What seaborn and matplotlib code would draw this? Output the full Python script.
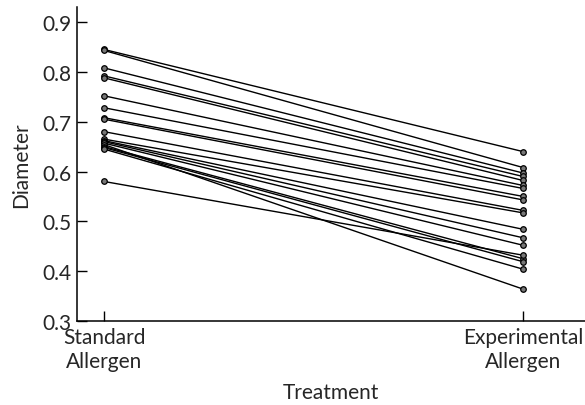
import pandas as pd
import seaborn as sns
import matplotlib.pyplot as plt

# diameters per subject
standard = [0.845, 0.843, 0.808, 0.792, 0.788, 0.752, 0.728, 0.708, 0.705, 0.680,
            0.665, 0.662, 0.660, 0.657, 0.654, 0.650, 0.648, 0.645, 0.580]
experimental = [0.640, 0.608, 0.597, 0.590, 0.582, 0.572, 0.566, 0.550, 0.543, 0.522,
                0.517, 0.484, 0.467, 0.452, 0.364, 0.425, 0.419, 0.404, 0.432]
treatments = ["Standard\nAllergen", "Experimental\nAllergen"]
y_ticks = [0.3, 0.4, 0.5, 0.6, 0.7, 0.8, 0.9]

n = len(standard)
df = pd.DataFrame({
    "subject": list(range(n)) * 2,
    "treatment": [0] * n + [1] * n,
    "diameter": standard + experimental,
})

sns.set_style("white")
plt.rcParams["font.family"] = ["Lato", "DejaVu Sans"]

fig = plt.figure(figsize=(5.85, 4.06), dpi=100)
ax = fig.add_axes([0.132, 0.207, 0.868, 0.773])

sns.lineplot(data=df, x="treatment", y="diameter", units="subject", estimator=None,
             color="black", lw=1.0, marker="o", markersize=4,
             markerfacecolor="#777777", markeredgecolor="black", markeredgewidth=0.9,
             ax=ax)

ax.set_xlim(-0.064, 1.148)
ax.set_ylim(0.3, 0.93)
ax.set_xticks([0, 1])
ax.set_xticklabels(treatments, linespacing=1.25)
ax.set_yticks(y_ticks)
ax.set_yticklabels([f"{v:.1f}" for v in y_ticks])
ax.tick_params(direction="in", length=7, width=1, color="black", labelsize=15,
               pad=4, bottom=True, left=True)
ax.set_xlabel("Treatment", fontsize=15, labelpad=8)
ax.set_ylabel("Diameter", fontsize=15, labelpad=8)
sns.despine(ax=ax)
for s in ("left", "bottom"):
    ax.spines[s].set_color("black")
    ax.spines[s].set_linewidth(1.1)

fig.savefig("out.png", dpi=100)
